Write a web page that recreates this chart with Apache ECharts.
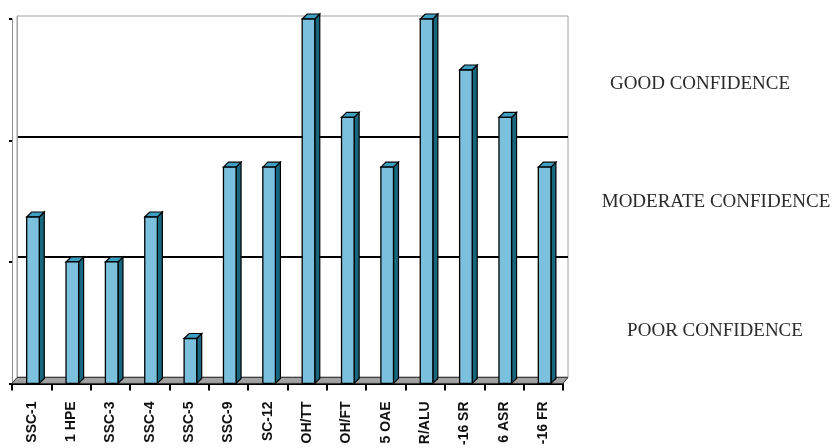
<!DOCTYPE html>
<html>
<head>
<meta charset="utf-8">
<script src="https://cdn.jsdelivr.net/npm/echarts@6/dist/echarts.min.js"></script>
<style>
  html, body { margin: 0; padding: 0; background: #fff; }
  #chart { width: 832px; height: 448px; }
</style>
</head>
<body>
<div id="chart"></div>
<script>
// Test cases along the category axis and their confidence scores
const categories = ['SSC-1', '1 HPE', 'SSC-3', 'SSC-4', 'SSC-5', 'SSC-9', 'SC-12',
                    'OH/TT', 'OH/FT', '5 OAE', 'R/ALU', '-16 SR', '6 ASR', '-16 FR'];
const scores = [1.37, 1.0, 1.0, 1.37, 0.37, 1.78, 1.78, 3.0, 2.19, 1.78, 3.0, 2.58, 2.19, 1.78];
// Confidence bands (one per gridline interval) and the value ticks
const bandLabels = ['GOOD CONFIDENCE', 'MODERATE CONFIDENCE', 'POOR CONFIDENCE'];
const yMin = 0, yMax = 3, yStep = 1;

const chart = echarts.init(document.getElementById('chart'), null, { renderer: 'canvas' });

const DEPTH = 5; // bar depth offset for the pseudo-3D look

function renderBar(params, api) {
  const idx = api.value(0);
  const v = api.value(1);
  const top = api.coord([idx, v]);
  const base = api.coord([idx, 0]);
  const band = api.size([1, 0])[0];
  const w = band * 0.32;
  const cx = top[0] + 1.3;
  const x0 = cx - w / 2, x1 = cx + w / 2;
  const d = DEPTH;
  return {
    type: 'group',
    children: [
      { type: 'polygon',
        shape: { points: [[x1, base[1]], [x1 + d, base[1] - d], [x1 + d, top[1] - d], [x1, top[1]]] },
        style: { fill: '#17687e', stroke: '#000', lineWidth: 1.2 } },
      { type: 'polygon',
        shape: { points: [[x0, top[1]], [x0 + d, top[1] - d], [x1 + d, top[1] - d], [x1, top[1]]] },
        style: { fill: '#3d9fc2', stroke: '#000', lineWidth: 1.2 } },
      { type: 'rect',
        shape: { x: x0, y: top[1], width: w, height: base[1] - top[1] },
        style: { fill: '#7bc1dd', stroke: '#000', lineWidth: 1.3 } }
    ]
  };
}

function renderFloor(params, api) {
  const cs = params.coordSys;
  const yb = cs.y + cs.height;
  const l = cs.x, r = cs.x + cs.width;
  return {
    type: 'polygon',
    shape: { points: [[l, yb], [r, yb], [r + 5, yb - 6], [l + 5, yb - 6]] },
    style: { fill: '#a3a3a3', stroke: '#333', lineWidth: 1 }
  };
}

const bandFont = '19px "Liberation Serif", "Times New Roman", serif';

const option = {
  animation: false,
  backgroundColor: '#fff',
  grid: [
    // back wall
    { left: 17, right: 264, top: 16, bottom: 71, show: true, borderColor: '#a0a0a0', borderWidth: 1 },
    // front plane (bars and category axis)
    { left: 12, right: 269, top: 19, bottom: 64 }
  ],
  xAxis: [
    { gridIndex: 0, type: 'category', data: categories, show: false },
    { gridIndex: 1, type: 'category', data: categories,
      axisLine: { show: true, lineStyle: { color: '#000', width: 2 } },
      axisTick: { show: true, length: 7, lineStyle: { color: '#000', width: 2 } },
      axisLabel: { interval: 0, rotate: 90, margin: 18, fontSize: 14, fontWeight: 'bold',
                   fontFamily: '"Liberation Sans", Arial, sans-serif', color: '#111' },
      splitLine: { show: false } }
  ],
  yAxis: [
    { gridIndex: 0, type: 'value', min: yMin, max: yMax, interval: yStep,
      axisLine: { show: true, lineStyle: { color: '#a0a0a0', width: 1 } },
      axisTick: { show: false }, axisLabel: { show: false },
      splitLine: { show: true, lineStyle: { color: ['rgba(0,0,0,0)', '#000', '#000', 'rgba(0,0,0,0)'], width: 2 } } },
    { gridIndex: 1, type: 'value', min: yMin, max: yMax, interval: yStep,
      axisLine: { show: true, lineStyle: { color: '#909090', width: 1 } },
      axisTick: { show: true, length: 3, lineStyle: { color: '#000', width: 2 } },
      axisLabel: { show: false }, splitLine: { show: false } }
  ],
  series: [
    { type: 'custom', xAxisIndex: 1, yAxisIndex: 1, renderItem: renderFloor, data: [[0, 0]], silent: true, z: 1 },
    { type: 'custom', xAxisIndex: 1, yAxisIndex: 1, renderItem: renderBar,
      data: scores.map((v, i) => [i, v]), encode: { x: 0, y: 1 }, z: 2 }
  ],
  graphic: [
    { type: 'text', x: 700, y: 84, style: { text: bandLabels[0], font: bandFont, fill: '#2a2a2a', align: 'center', verticalAlign: 'middle' } },
    { type: 'text', x: 716, y: 202, style: { text: bandLabels[1], font: bandFont, fill: '#2a2a2a', align: 'center', verticalAlign: 'middle' } },
    { type: 'text', x: 715, y: 331, style: { text: bandLabels[2], font: bandFont, fill: '#2a2a2a', align: 'center', verticalAlign: 'middle' } }
  ]
};

chart.setOption(option);
</script>
</body>
</html>
